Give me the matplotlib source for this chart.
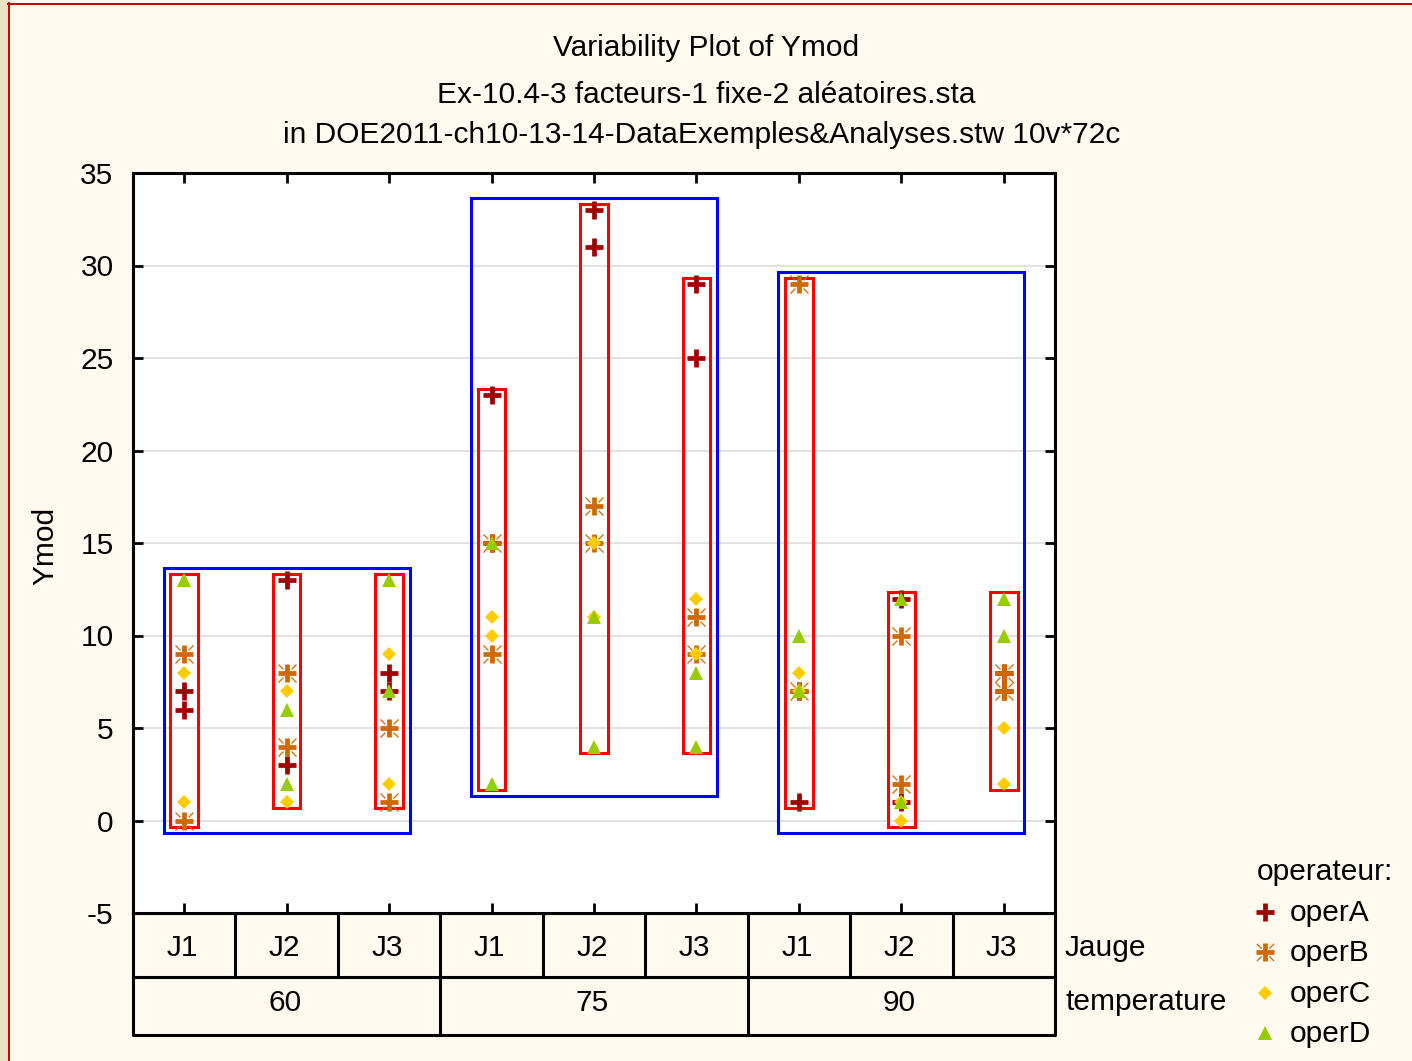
import matplotlib
matplotlib.use("Agg")
import matplotlib.pyplot as plt
import numpy as np
from matplotlib.patches import Rectangle
from matplotlib.path import Path

plt.rcParams["font.family"] = ["Liberation Sans", "DejaVu Sans"]
plt.rcParams["axes.unicode_minus"] = False

# design: 3 temperatures x 3 gauges x 4 operators, 2 replicates per cell
temperatures = ["60", "75", "90"]
jauges = ["J1", "J2", "J3"]
operators = ["operA", "operB", "operC", "operD"]

# cells ordered 60/J1, 60/J2, 60/J3, 75/J1, ... 90/J3
operA = [[7, 6], [13, 3], [8, 7], [23, 15], [33, 31], [29, 25], [1, 7], [12, 1], [8, 7]]
operB = [[9, 0], [8, 4], [5, 1], [15, 9], [17, 15], [11, 9], [29, 7], [10, 2], [8, 7]]
operC = [[8, 1], [7, 1], [9, 2], [11, 10], [15, 11], [12, 9], [8, 7], [1, 0], [5, 2]]
operD = [[13, 13], [6, 2], [13, 7], [15, 2], [11, 4], [8, 4], [10, 7], [12, 1], [12, 10]]

BG = "#FEFAF0"
COLORS = {"operA": "#A00000", "operB": "#D06800", "operC": "#FFCC00", "operD": "#99CC00"}

W, H = 1412, 1061
L, R, T, B = 133, 1055, 173, 913

# short diagonal ticks drawn around the plus for operB
diag = Path(
    [(0.45, 0.45), (1, 1), (-0.45, 0.45), (-1, 1), (0.45, -0.45), (1, -1), (-0.45, -0.45), (-1, -1)],
    [Path.MOVETO, Path.LINETO] * 4,
)


def draw_marker(axis, x, y, op, size_scale=1.0):
    c = COLORS[op]
    if op == "operA":
        axis.plot(x, y, ls="none", marker="+", ms=13 * size_scale, mew=3.4, color=c, zorder=5)
    elif op == "operB":
        axis.plot(x, y, ls="none", marker="+", ms=13 * size_scale, mew=3.4, color=c, zorder=6)
        axis.plot(x, y, ls="none", marker=diag, ms=13 * size_scale, mew=0.9, color=c, zorder=6)
    elif op == "operC":
        axis.plot(x, y, ls="none", marker="D", ms=7.5 * size_scale, mew=0, color=c, zorder=7)
    else:
        axis.plot(x, y, ls="none", marker="^", ms=10.5 * size_scale, mew=0, color=c, zorder=8)


fig = plt.figure(figsize=(W / 100, H / 100), dpi=100, facecolor=BG)

# overlay in pixel coordinates for frame, table, labels and legend
ov = fig.add_axes([0, 0, 1, 1], zorder=0)
ov.set_xlim(0, W)
ov.set_ylim(H, 0)
ov.axis("off")
ov.add_patch(Rectangle((0, 0), 8, H, color="#EEE2C6", lw=0))
ov.plot([8.5, 8.5], [3, H], color="#CC0000", lw=1.4)
ov.plot([8, W], [3.5, 3.5], color="#CC0000", lw=1.4)

ax = fig.add_axes([L / W, 1 - B / H, (R - L) / W, (B - T) / H], zorder=1)
ax.set_facecolor("white")
ax.set_xlim(0, 9)
ax.set_ylim(-5, 35)
ax.set_yticks(np.arange(-5, 36, 5))
ax.set_xticks(np.arange(9) + 0.5)
ax.set_xticklabels([])
ax.grid(axis="y", color="#DDDDDD", lw=1.2)
ax.set_axisbelow(True)
ax.tick_params(axis="y", direction="in", length=7, width=2, labelsize=21.5, pad=14,
               left=True, right=True)
ax.tick_params(axis="x", direction="in", length=7, width=2, top=True, bottom=True)
for sp in ax.spines.values():
    sp.set_linewidth(2.2)

series = {"operA": operA, "operB": operB, "operC": operC, "operD": operD}
n_cells = len(temperatures) * len(jauges)
xs = np.arange(n_cells) + 0.5

# red box per gauge cell, blue box per temperature group
for i in range(n_cells):
    vals = [v for op in operators for v in series[op][i] if not np.isnan(v)]
    lo, hi = min(vals) - 0.35, max(vals) + 0.35
    ax.add_patch(Rectangle((xs[i] - 0.135, lo), 0.27, hi - lo, fill=False,
                           ec="#FF0000", lw=2.2, zorder=3))
for t in range(len(temperatures)):
    vals = [v for op in operators for cell in series[op][3 * t:3 * t + 3] for v in cell]
    lo, hi = min(vals) - 0.65, max(vals) + 0.65
    x0 = 3 * t + 0.5 - 0.2
    ax.add_patch(Rectangle((x0, lo), 2.4, hi - lo, fill=False, ec="#0000FF", lw=2.2, zorder=3))

for op in operators:
    vals = np.array(series[op], dtype=float)
    for rep in range(vals.shape[1]):
        draw_marker(ax, xs, vals[:, rep], op)

# titles
fs = 21.5
ov.text(706, 48, "Variability Plot of Ymod", ha="center", va="center", fontsize=fs)
ov.text(706, 95, "Ex-10.4-3 facteurs-1 fixe-2 aléatoires.sta", ha="center", va="center", fontsize=fs)
ov.text(702, 135, "in DOE2011-ch10-13-14-DataExemples&Analyses.stw 10v*72c",
        ha="center", va="center", fontsize=fs)
ov.text(45, 546, "Ymod", rotation=90, ha="center", va="center", fontsize=fs)

# category table under the axis
row1, row2 = 977, 1035
cw = (R - L) / n_cells
ov.plot([L, R, R, L, L], [B, B, row2, row2, B], color="black", lw=2.2, zorder=2)
ov.plot([L, R], [row1, row1], color="black", lw=2.2, zorder=2)
for i in range(1, n_cells):
    yb = row2 if i % 3 == 0 else row1
    ov.plot([L + i * cw, L + i * cw], [B, yb], color="black", lw=2.2, zorder=2)
for i in range(n_cells):
    ov.text(L + (i + 0.5) * cw - 2, (B + row1) / 2 + 3, jauges[i % 3], ha="center", va="center", fontsize=fs)
for t, name in enumerate(temperatures):
    ov.text(L + (3 * t + 1.5) * cw - 2, (row1 + row2) / 2 - 3, name, ha="center", va="center", fontsize=fs)
ov.text(1065, 948, "Jauge", ha="left", va="center", fontsize=fs)
ov.text(1065, 1002, "temperature", ha="left", va="center", fontsize=fs)

# legend
ov.text(1257, 872, "operateur:", ha="left", va="center", fontsize=fs)
for k, op in enumerate(operators):
    yk = 912 + 40.3 * k
    draw_marker(ov, [1265], [yk], op, size_scale=0.95)
    ov.text(1290, yk + 1, op, ha="left", va="center", fontsize=fs)

fig.savefig("out.png", dpi=100, facecolor=BG)
